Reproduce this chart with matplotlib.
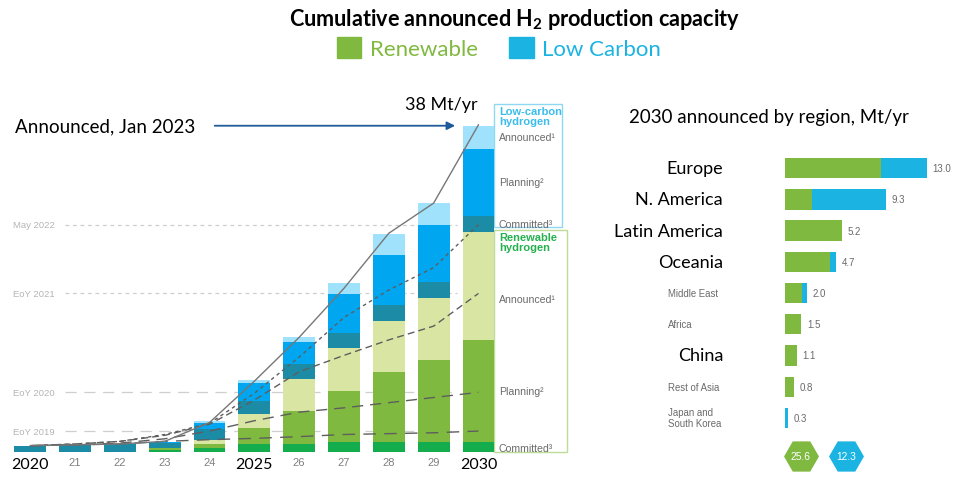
import numpy as np
import matplotlib.pyplot as plt
from matplotlib.patches import Patch, Rectangle

plt.rcParams['font.family'] = ['Lato', 'DejaVu Sans']
plt.rcParams['mathtext.fontset'] = 'custom'
plt.rcParams['mathtext.rm'] = 'Lato'
plt.rcParams['mathtext.bf'] = 'Lato:bold'

# ---- left chart: cumulative announced capacity, Mt/yr ----
years = ["2020", "21", "22", "23", "24", "2025", "26", "27", "28", "29", "2030"]
ren_committed = [0, 0, 0, 0.2, 0.4, 0.9, 0.9, 1.1, 1.1, 1.1, 1.1]
ren_planning = [0, 0, 0, 0.2, 0.5, 1.8, 3.8, 6.0, 8.2, 9.6, 11.9]
ren_announced = [0, 0, 0, 0.05, 0.5, 1.7, 3.8, 5.0, 5.9, 7.2, 12.6]
lc_committed = [0.7, 0.9, 0.9, 0.6, 1.2, 1.5, 1.7, 1.7, 1.8, 1.8, 1.8]
lc_planning = [0, 0, 0, 0.05, 0.7, 2.1, 2.6, 4.5, 5.9, 6.7, 7.8]
lc_announced = [0, 0, 0, 0, 0.3, 0.3, 0.5, 1.3, 2.4, 2.5, 2.7]

# earlier outlooks (last value = level of the reference line)
outlook_now = [0.7, 0.8, 0.9, 1.2, 3.4, 8.2, 13.3, 19.0, 25.4, 28.9, 38.0]
outlook_may22 = [0.7, 0.9, 1.2, 2.0, 3.3, 6.8, 11.0, 15.6, 18.8, 21.4, 26.4]
outlook_eoy21 = [0.7, 0.9, 1.2, 1.9, 3.2, 6.0, 9.3, 11.2, 13.0, 14.6, 18.4]
outlook_eoy20 = [0.7, 0.8, 1.0, 1.5, 2.4, 3.6, 4.6, 5.1, 5.7, 6.3, 6.9]
outlook_eoy19 = [0.7, 0.8, 0.9, 1.2, 1.4, 1.55, 1.75, 2.0, 2.1, 2.2, 2.4]
ref_labels = ["May 2022", "EoY 2021", "EoY 2020", "EoY 2019"]

# ---- right chart: 2030 by region, Mt/yr ----
regions = ["Europe", "N. America", "Latin America", "Oceania", "Middle East",
           "Africa", "China", "Rest of Asia", "Japan and\nSouth Korea"]
region_ren = [8.8, 2.5, 5.2, 4.1, 1.6, 1.5, 1.1, 0.8, 0.0]
region_lc = [4.2, 6.8, 0.0, 0.6, 0.4, 0.0, 0.0, 0.0, 0.3]
region_big = [True, True, True, True, False, False, True, False, False]

GREEN = '#80b940'
BLUE = '#1bb4e2'
seg_colors = ['#14ad4e', '#80b940', '#d9e5a3', '#1c8ba5', '#00a6ef', '#a0e2fb']
GREY_TXT = '#6a6a6a'

W, H = 974, 481
fig = plt.figure(figsize=(W / 100, H / 100), dpi=100)


def fx(px):
    return px / W


def fy(py):
    return 1 - py / H


# title + legend
fig.text(fx(515), fy(20), r"Cumulative announced H$_\mathbf{2}$ production capacity",
         ha='center', va='center', fontsize=15.6, fontweight='bold')
leg = fig.legend(handles=[Patch(color=GREEN), Patch(color=BLUE)],
                 labels=["Renewable", "Low Carbon"], ncol=2, loc='center',
                 bbox_to_anchor=(fx(499), fy(49)), frameon=False, fontsize=16,
                 handlelength=1.1, handleheight=1.1, handletextpad=0.4,
                 columnspacing=1.4)
for t, c in zip(leg.get_texts(), [GREEN, BLUE]):
    t.set_color(c)

# ---------------- left chart ----------------
ax = fig.add_axes([0, fy(452.7), fx(560), (452.7 - 90) / H])
x = np.arange(len(years))
segments = [ren_committed, ren_planning, ren_announced,
            lc_committed, lc_planning, lc_announced]
bottom = np.zeros(len(years))
bounds = []
for vals, col in zip(segments, seg_colors):
    ax.bar(x, vals, 0.71, bottom=bottom, color=col, zorder=2)
    bounds.append((bottom[-1], bottom[-1] + vals[-1]))
    bottom = bottom + np.array(vals)
totals = bottom

ax.set_xlim(-0.676, 11.82)
ax.set_ylim(0, 42.17)
for s in ax.spines.values():
    s.set_visible(False)
ax.set_yticks([])
ax.set_xticks(x, years)
ax.tick_params(axis='x', length=0, pad=4)
for lab in ax.get_xticklabels():
    if len(lab.get_text()) == 4:
        lab.set_fontsize(11.5)
        lab.set_color('black')
    else:
        lab.set_fontsize(8)
        lab.set_color('#808080')
        lab.set_family('Liberation Sans')

# reference lines and outlook curves
outlooks = [outlook_may22, outlook_eoy21, outlook_eoy20, outlook_eoy19]
ref_ls = [(0, (3, 3)), (0, (3, 3)), (0, (9, 6)), (0, (9, 6))]
curve_ls = [(0, (2.5, 2.5)), (0, (5, 3)), (0, (8, 5)), (0, (9, 6))]
for vals, lab, rls, cls in zip(outlooks, ref_labels, ref_ls, curve_ls):
    ax.hlines(vals[-1], 0.77, 9.52, colors='#cfcfcf', linestyles=[rls],
              lw=0.9, zorder=1)
    ax.text(-0.386, vals[-1], lab, fontsize=6.8, color='#b5b5b5',
            va='center', family='Liberation Sans')
    ax.plot(x, vals, color='#5e5e5e', lw=1, ls=cls, zorder=3)
ax.plot(x, outlook_now, color='#777777', lw=1, zorder=3)

# legend boxes beside the 2030 bar
ren30 = bounds[2][1]
xb = x[-1] + 0.355
ax.add_patch(Rectangle((xb, 0), 1.63, ren30 + 0.2, fill=False,
                       ec='#bcdc98', lw=1, zorder=1, clip_on=False))
ax.add_patch(Rectangle((xb, ren30 + 0.5), 1.52, totals[-1] + 2.5 - ren30 - 0.5,
                       fill=False, ec='#8fd8f2', lw=1, zorder=1, clip_on=False))
ax.text(xb + 0.1, totals[-1] + 2.3, "Low-carbon\nhydrogen", fontsize=8,
        fontweight='bold', color='#3cbdeb', va='top', linespacing=1.0,
        family='Liberation Sans')
ax.text(xb + 0.1, ren30 - 0.05, "Renewable\nhydrogen", fontsize=8,
        fontweight='bold', color='#25b14f', va='top', linespacing=1.0,
        family='Liberation Sans')
seg_names = ["Committed³", "Planning²", "Announced¹"] * 2
for i, ((lo, hi), name) in enumerate(zip(bounds, seg_names)):
    if i == 2:
        hi = hi - 3.0
    yc = (lo + hi) / 2
    if i == 0:
        yc = lo + 0.4
    ax.text(xb + 0.1, yc, name, fontsize=7.6, color=GREY_TXT, va='center',
            family='Liberation Sans')

ax.annotate("Announced, Jan 2023", xy=(x[-1] - 0.52, totals[-1]),
            xytext=(1.67, totals[-1]), ha='center', va='center', fontsize=13.5,
            arrowprops=dict(arrowstyle='-|>', color='#1f5b99', lw=1.3,
                            shrinkA=12, shrinkB=0, mutation_scale=12))
ax.annotate(f"{totals[-1]:.0f} Mt/yr", xy=(x[-1], totals[-1]),
            xytext=(-27, 16), textcoords='offset points',
            ha='center', va='center', fontsize=13)

# ---------------- right chart ----------------
fig.text(fx(769), fy(118), "2030 announced by region, Mt/yr",
         ha='center', va='center', fontsize=13.5)
ax2 = fig.add_axes([fx(785), 0, fx(974) - fx(785), (481 - 138) / H])
k = np.arange(len(regions))
ax2.barh(k, region_ren, 0.65, color=GREEN)
ax2.barh(k, region_lc, 0.65, left=region_ren, color=BLUE)
ax2.set_xlim(0, 17.34)
ax2.set_ylim(9.99, -1.0)
ax2.axis('off')

for ki, name, r, c, big in zip(k, regions, region_ren, region_lc, region_big):
    ax2.annotate(f"{r + c:.1f}", xy=(r + c, ki), xytext=(4, 0),
                 textcoords='offset points', va='center', fontsize=7,
                 color=GREY_TXT, family='Liberation Sans')
    if big:
        ax2.text(-0.328, ki, name, transform=ax2.get_yaxis_transform(),
                 ha='right', va='center', fontsize=13)
    else:
        ax2.text(-0.619, ki, name, transform=ax2.get_yaxis_transform(),
                 ha='left', va='center', fontsize=6.9, color=GREY_TXT,
                 family='Liberation Sans', linespacing=1.1)

for xpos, total, col in [(1.45, sum(region_ren), GREEN), (5.64, sum(region_lc), BLUE)]:
    ax2.plot(xpos, 9.21, marker='H', ms=24, color=col, clip_on=False)
    ax2.text(xpos, 9.21, f"{total:.1f}", ha='center', va='center',
             fontsize=7.4, color='white', family='Liberation Sans')

fig.savefig('out.png', dpi=100)
